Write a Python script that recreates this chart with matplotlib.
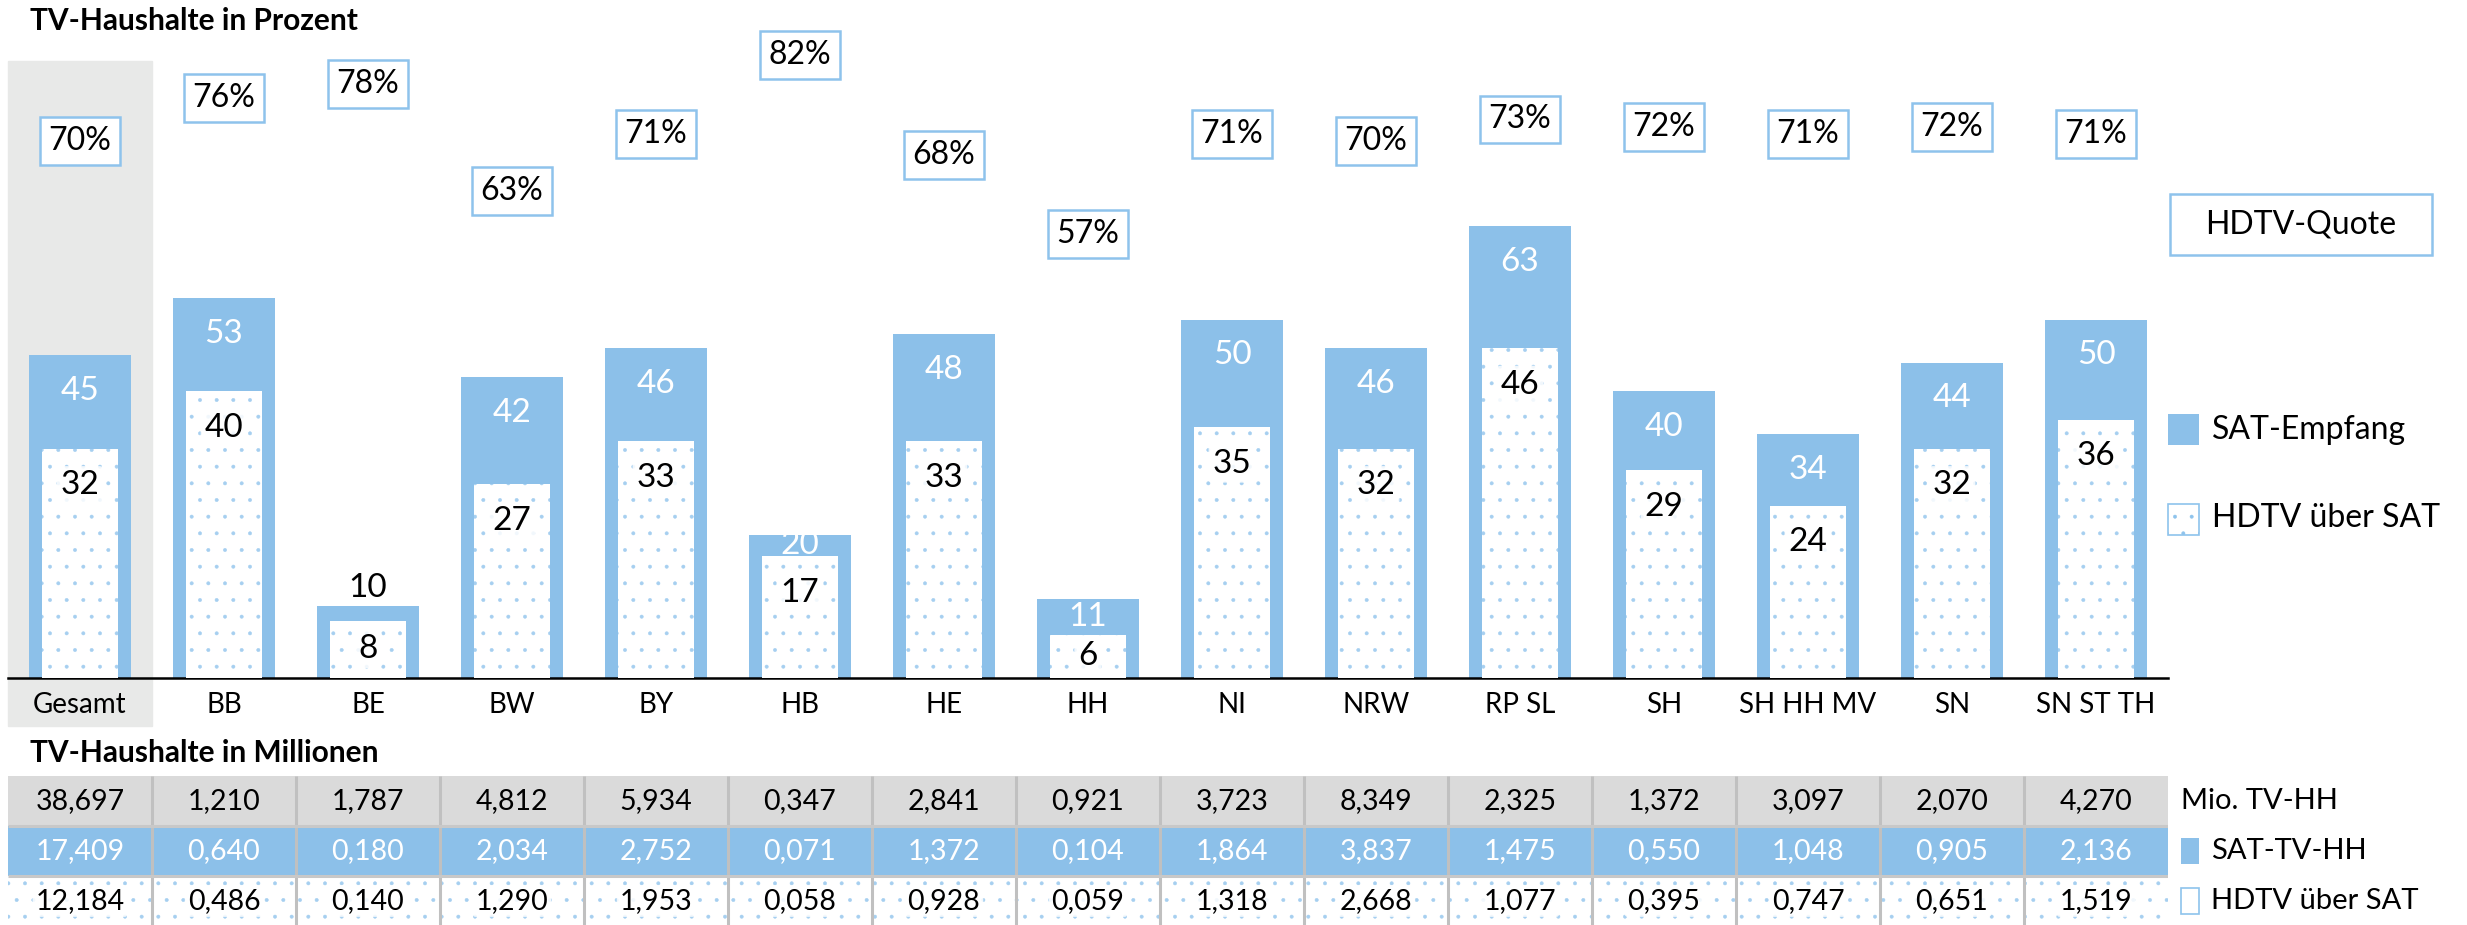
import matplotlib.pyplot as plt
import numpy as np
from matplotlib.patches import Rectangle


# data
categories = ["Gesamt", "BB", "BE", "BW", "BY", "HB", "HE", "HH", "NI",
              "NRW", "RP SL", "SH", "SH HH MV", "SN", "SN ST TH"]
sat_pct = [45, 53, 10, 42, 46, 20, 48, 11, 50, 46, 63, 40, 34, 44, 50]
hdtv_pct = [32, 40, 8, 27, 33, 17, 33, 6, 35, 32, 46, 29, 24, 32, 36]
hdtv_quote = [70, 76, 78, 63, 71, 82, 68, 57, 71, 70, 73, 72, 71, 72, 71]

tv_hh = [38.697, 1.210, 1.787, 4.812, 5.934, 0.347, 2.841, 0.921, 3.723,
         8.349, 2.325, 1.372, 3.097, 2.070, 4.270]
sat_hh = [17.409, 0.640, 0.180, 2.034, 2.752, 0.071, 1.372, 0.104, 1.864,
          3.837, 1.475, 0.550, 1.048, 0.905, 2.136]
hdtv_hh = [12.184, 0.486, 0.140, 1.290, 1.953, 0.058, 0.928, 0.059, 1.318,
           2.668, 1.077, 0.395, 0.747, 0.651, 1.519]

table_rows = [tv_hh, sat_hh, hdtv_hh]
table_names = ["Mio. TV-HH", "SAT-TV-HH", "HDTV über SAT"]


plt.rcParams['font.family'] = ['Lato', 'DejaVu Sans']
plt.rcParams['hatch.linewidth'] = 0.35

W, H = 2467, 925
BLUE = "#8cc0e9"
DOT = "#a6cff0"
BOX = "#8ec3ec"
GRAY_BG = "#e8e9e8"
PX_PER_UNIT = 7.17


def fx(x):
    return x / W


def fy(y):
    return 1 - y / H


def fmt(v):
    return f"{v:.3f}".replace(".", ",")


fig = plt.figure(figsize=(W / 100, H / 100), dpi=100)
n = len(categories)
x = np.arange(n)

# main bar axes
ax = fig.add_axes([fx(8), fy(678), (2168 - 8) / W, (678 - 61) / H])
ymax = (678 - 61) / PX_PER_UNIT
ax.set_xlim(-0.5, n - 0.5)
ax.set_ylim(0, ymax)

# grey background behind "Gesamt"
ybot = -48 / PX_PER_UNIT
ax.add_patch(Rectangle((-0.5, ybot), 1, ymax - ybot, color=GRAY_BG,
                       zorder=0, clip_on=False))

ax.bar(x, sat_pct, width=0.715, color=BLUE, linewidth=0, zorder=2)
ax.bar(x, hdtv_pct, width=0.528, color="white", edgecolor=DOT,
       linewidth=0, hatch=".", zorder=4)

for i, (s, h) in enumerate(zip(sat_pct, hdtv_pct)):
    gap = s - h
    if gap >= 8:
        y, col = s - 5, "white"
    elif gap >= 3:
        y, col = s - gap / 2, "white"
    else:
        y, col = s + 2.5, "black"
    ax.text(i, y, str(s), ha="center", va="center", fontsize=24,
            color=col, zorder=3)
    ax.text(i, max(h - 5.1, h / 2), str(h), ha="center", va="center",
            fontsize=24, color="black", zorder=5,
            bbox=dict(boxstyle="round,pad=0.12", fc="white", ec="none",
                      alpha=0.85))

ax.set_xticks(x, categories, fontsize=20)
ax.tick_params(axis="x", length=0, pad=10)
ax.set_yticks([])
for side in ["top", "left", "right"]:
    ax.spines[side].set_visible(False)
ax.spines["bottom"].set_linewidth(1.8)
ax.patch.set_visible(False)

# HDTV quota boxes on a shifted twin scale
ax2 = ax.twinx()
ax2.set_ylim(-4.9, ymax - 4.9)
ax2.set_yticks([])
ax2.axis("off")
for i, p in enumerate(hdtv_quote):
    ax2.text(i, p, f"{p}%", ha="center", va="center", fontsize=23,
             bbox=dict(boxstyle="square,pad=0.28", fc="white", ec=BOX,
                       lw=1.8), clip_on=False)

# legend right of bars
fig.add_artist(Rectangle((fx(2170), fy(255)), 262 / W, 61 / H,
                         transform=fig.transFigure, fc="white", ec=BOX,
                         lw=1.8))
fig.text(fx(2301), fy(225), "HDTV-Quote", ha="center", va="center",
         fontsize=23)
fig.add_artist(Rectangle((fx(2168), fy(445)), 31 / W, 31 / H,
                         transform=fig.transFigure, fc=BLUE, lw=0))
fig.text(fx(2212), fy(430), "SAT-Empfang", va="center", fontsize=23)
fig.add_artist(Rectangle((fx(2168), fy(535)), 31 / W, 31 / H,
                         transform=fig.transFigure, fc="white", ec=BOX,
                         lw=1.2, hatch="."))
fig.text(fx(2212), fy(518), "HDTV über SAT", va="center", fontsize=23)

# titles
fig.text(fx(30), fy(21), "TV-Haushalte in Prozent", fontsize=21.5,
         weight="bold", va="center")
fig.text(fx(30), fy(753), "TV-Haushalte in Millionen", fontsize=21.5,
         weight="bold", va="center")

# table of millions
tab = fig.add_axes([fx(8), 0, 2160 / W, (925 - 776) / H])
tab.set_xlim(-0.5, n - 0.5)
tab.set_ylim((925 - 776) / 50, 0)
tab.axis("off")

row_face = ["#dadada", BLUE, "white"]
row_text = ["black", "white", "black"]
for r, vals in enumerate(table_rows):
    if r == 2:
        tab.bar(x, 1, bottom=r, width=1, color="white", edgecolor=DOT,
                linewidth=0, hatch=".")
    else:
        tab.bar(x, 1, bottom=r, width=1, color=row_face[r], linewidth=0)
    for i, v in enumerate(vals):
        kw = {}
        if r == 2:
            kw["bbox"] = dict(boxstyle="round,pad=0.1", fc="white",
                              ec="none", alpha=0.85)
        tab.text(i, r + 0.5, fmt(v), ha="center", va="center",
                 fontsize=20.5, color=row_text[r], **kw)

tab.vlines(x[:-1] + 0.5, 0, 3, color="#c0c0c0", lw=2.2)
tab.hlines([1, 2], -0.5, n - 0.5, color="#c8c8c8", lw=2.2)

# table legend
fig.text(fx(2181), fy(801), table_names[0], va="center", fontsize=21)
fig.add_artist(Rectangle((fx(2181), fy(864)), 18 / W, 26 / H,
                         transform=fig.transFigure, fc=BLUE, lw=0))
fig.text(fx(2211), fy(851), table_names[1], va="center", fontsize=21)
fig.add_artist(Rectangle((fx(2181), fy(914)), 18 / W, 26 / H,
                         transform=fig.transFigure, fc="white", ec=BOX,
                         lw=1.2))
fig.text(fx(2211), fy(901), table_names[2], va="center", fontsize=21)

fig.savefig("out.png", dpi=100)
